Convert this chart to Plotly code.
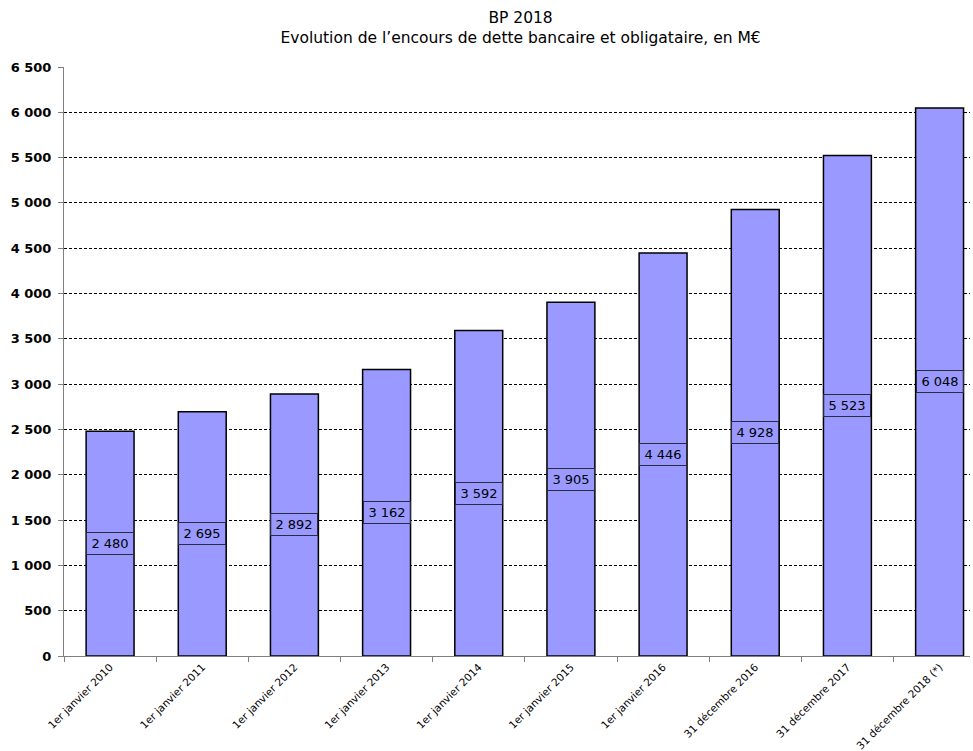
import plotly.graph_objects as go

# Outstanding bank and bond debt, M€
categories = [
    "1er janvier 2010", "1er janvier 2011", "1er janvier 2012", "1er janvier 2013",
    "1er janvier 2014", "1er janvier 2015", "1er janvier 2016", "31 décembre 2016",
    "31 décembre 2017", "31 décembre 2018 (*)",
]
encours = [2480, 2695, 2892, 3162, 3592, 3905, 4446, 4928, 5523, 6048]
y_ticks = list(range(0, 6501, 500))


def fmt(v):
    return f"{v:,}".replace(",", " ")


FONT = "DejaVu Sans"

fig = go.Figure()
fig.add_trace(go.Bar(
    x=categories,
    y=encours,
    width=0.52,
    marker=dict(color="#9999FF", line=dict(color="#000000", width=1.5)),
    hoverinfo="x+y",
))

# Value labels boxed at mid-height of each bar
for cat, v in zip(categories, encours):
    fig.add_annotation(
        x=cat, y=v / 2, xref="x", yref="y",
        text=fmt(v), showarrow=False,
        font=dict(family=FONT, size=13, color="#000000"),
        width=46, height=21, borderpad=0,
        bordercolor="#2a2a40", borderwidth=1,
    )

fig.update_layout(
    width=973, height=751,
    margin=dict(l=64, r=3, t=67, b=95),
    plot_bgcolor="#ffffff", paper_bgcolor="#ffffff",
    separators=", ",
    showlegend=False,
    bargap=0.48,
    title=dict(
        text="BP 2018<br>Evolution de l’encours de dette bancaire et obligataire, en M€",
        x=0.535, xanchor="center", yref="container", y=0.969, yanchor="top",
        font=dict(family=FONT, size=15.5, color="#000000"),
    ),
    xaxis=dict(
        type="category",
        range=[-0.5, 9.33],
        tickangle=-45,
        tickfont=dict(family=FONT, size=10.5, color="#000000"),
        showgrid=False,
        showline=True, linecolor="#808080", linewidth=1,
        ticks="outside", tickson="boundaries", ticklen=5, tickcolor="#808080",
        automargin=False,
    ),
    yaxis=dict(
        range=[0, 6500],
        tickvals=y_ticks,
        ticktext=[fmt(t) for t in y_ticks],
        tickfont=dict(family=FONT, size=13, color="#000000", weight="bold"),
        ticklabelstandoff=4,
        showgrid=True, gridcolor="#000000", gridwidth=1, griddash="3px,2px",
        showline=True, linecolor="#808080", linewidth=1,
        ticks="outside", ticklen=5, tickcolor="#808080",
        zeroline=False, automargin=False,
    ),
)

fig.write_html("out.html")
